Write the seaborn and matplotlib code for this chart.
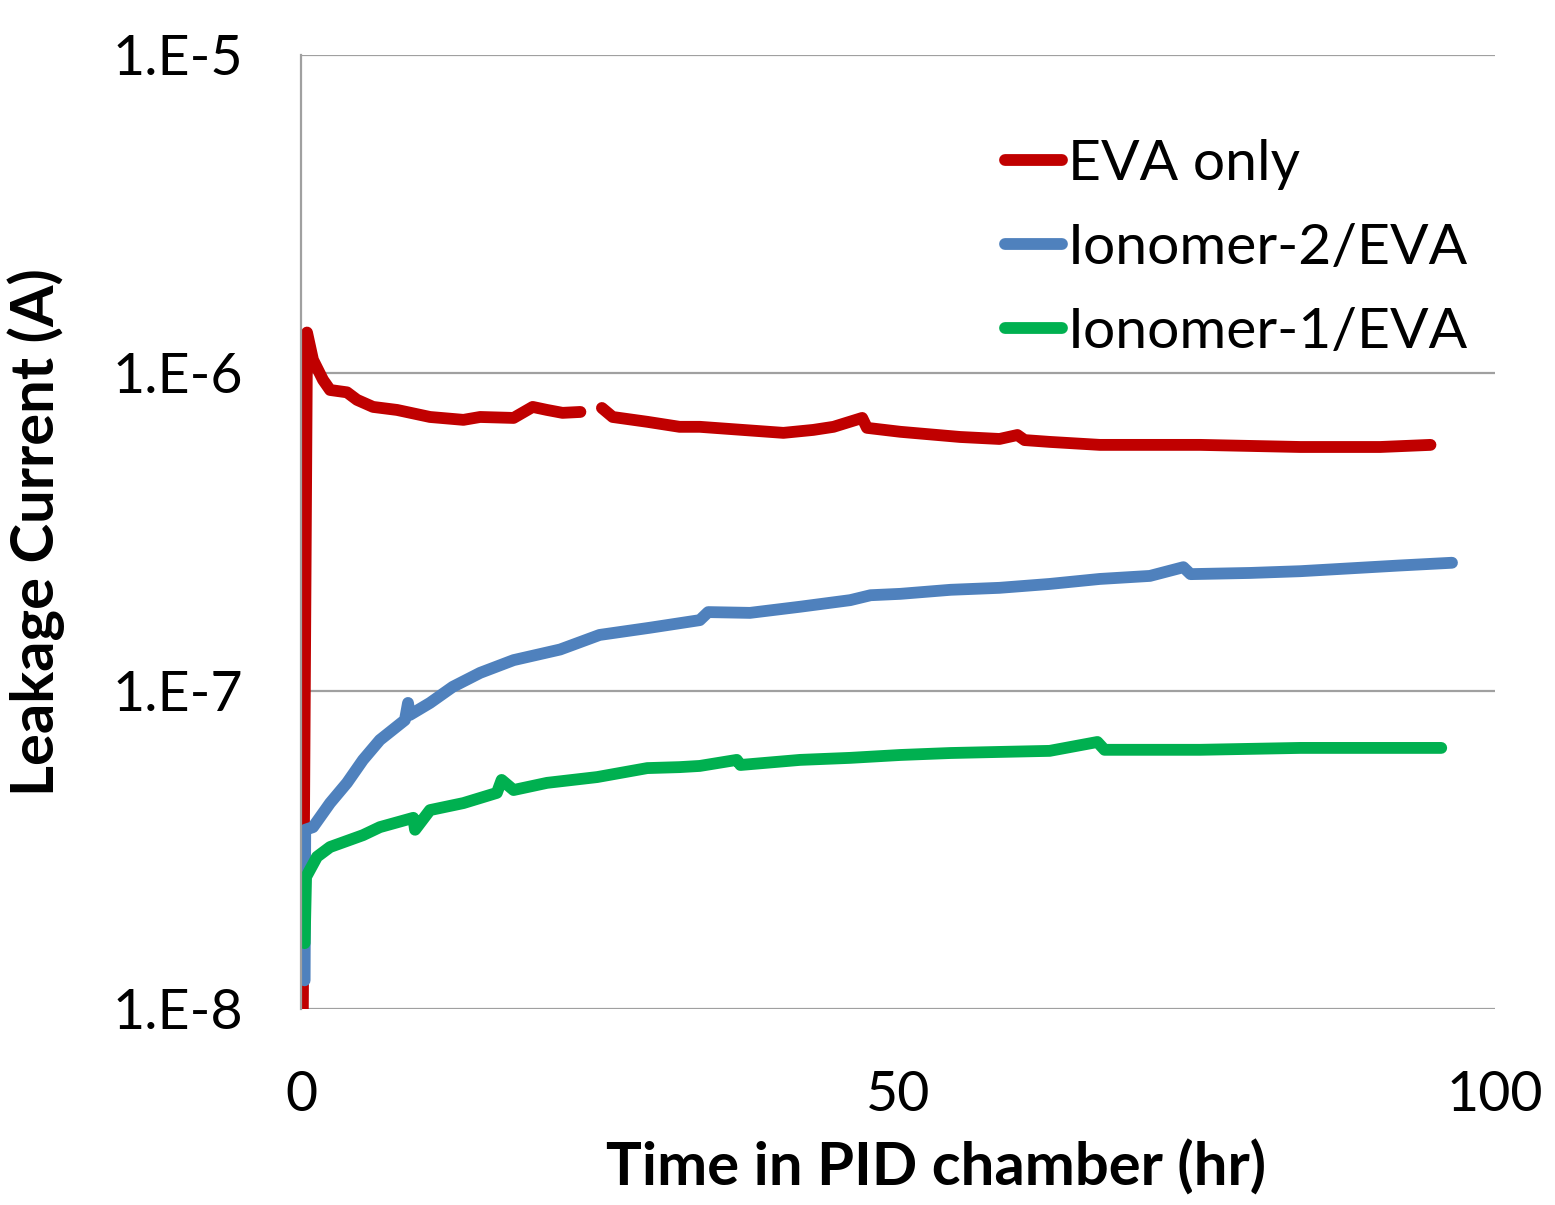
import numpy as np
import pandas as pd
import seaborn as sns
from matplotlib import pyplot as plt
from matplotlib.lines import Line2D

# EVA only (gap in the record between ~23.4 and ~25.2 hr)
eva_t = [0.15, 0.5, 1.0, 1.84, 2.43, 3.85, 4.69, 6.03, 8.04, 10.8, 13.6, 15.0,
         17.8, 19.4, 20.6, 21.9, 23.4]
eva_i = [1.0e-8, 1.34e-6, 1.10e-6, 9.51e-7, 8.84e-7, 8.69e-7, 8.23e-7, 7.82e-7,
         7.65e-7, 7.27e-7, 7.12e-7, 7.27e-7, 7.22e-7, 7.82e-7, 7.65e-7, 7.49e-7,
         7.54e-7]
eva_t2 = [25.2, 26.1, 29.0, 31.7, 33.4, 40.4, 42.9, 44.6, 47.0, 47.4, 50.2, 55.2,
          58.5, 60.0, 60.6, 62.7, 66.9, 75.3, 83.7, 90.4, 94.6]
eva_i2 = [7.76e-7, 7.27e-7, 7.02e-7, 6.77e-7, 6.77e-7, 6.48e-7, 6.62e-7, 6.77e-7,
          7.22e-7, 6.72e-7, 6.53e-7, 6.29e-7, 6.20e-7, 6.38e-7, 6.15e-7, 6.07e-7,
          5.94e-7, 5.94e-7, 5.85e-7, 5.85e-7, 5.94e-7]

ion2_t = [0.3, 0.35, 1.0, 2.43, 3.85, 5.19, 6.6, 8.7, 8.96, 9.1, 10.8, 12.7, 15.0,
          17.8, 21.7, 25.0, 29.2, 33.4, 34.1, 37.6, 41.8, 46.0, 47.7, 50.2, 54.4,
          58.5, 62.7, 66.9, 71.1, 73.9, 74.5, 79.5, 83.7, 87.9, 92.0, 96.4]
ion2_i = [1.23e-8, 3.66e-8, 3.73e-8, 4.44e-8, 5.14e-8, 6.07e-8, 7.01e-8, 8.10e-8,
          9.17e-8, 8.40e-8, 9.17e-8, 1.03e-7, 1.14e-7, 1.25e-7, 1.35e-7, 1.50e-7,
          1.58e-7, 1.67e-7, 1.77e-7, 1.76e-7, 1.84e-7, 1.93e-7, 2.00e-7, 2.02e-7,
          2.08e-7, 2.11e-7, 2.17e-7, 2.25e-7, 2.30e-7, 2.45e-7, 2.33e-7, 2.35e-7,
          2.38e-7, 2.43e-7, 2.48e-7, 2.53e-7]

ion1_t = [0.3, 0.42, 1.34, 2.43, 5.19, 6.6, 9.4, 9.55, 10.8, 13.6, 16.4, 16.8,
          17.8, 20.6, 24.8, 29.0, 31.7, 33.4, 36.5, 36.8, 41.8, 46.0, 50.2, 54.4,
          58.5, 62.7, 66.7, 67.3, 75.3, 83.7, 95.5]
ion1_i = [1.61e-8, 2.60e-8, 3.01e-8, 3.23e-8, 3.52e-8, 3.73e-8, 3.99e-8, 3.66e-8,
          4.22e-8, 4.44e-8, 4.78e-8, 5.25e-8, 4.88e-8, 5.14e-8, 5.36e-8, 5.72e-8,
          5.76e-8, 5.81e-8, 6.07e-8, 5.85e-8, 6.07e-8, 6.16e-8, 6.29e-8, 6.38e-8,
          6.43e-8, 6.48e-8, 6.91e-8, 6.53e-8, 6.53e-8, 6.62e-8, 6.62e-8]

series = ["EVA only", "Ionomer-2/EVA", "Ionomer-1/EVA"]
colors = ["#C00000", "#4F81BD", "#00B050"]

frames = [
    pd.DataFrame({"t": eva_t, "i": eva_i, "s": series[0], "seg": "a"}),
    pd.DataFrame({"t": eva_t2, "i": eva_i2, "s": series[0], "seg": "b"}),
    pd.DataFrame({"t": ion2_t, "i": ion2_i, "s": series[1], "seg": "a"}),
    pd.DataFrame({"t": ion1_t, "i": ion1_i, "s": series[2], "seg": "a"}),
]
data = pd.concat(frames, ignore_index=True)

sns.set_style("white")
plt.rcParams['font.family'] = ['Lato', 'DejaVu Sans']
plt.rcParams['text.color'] = 'black'
plt.rcParams['axes.labelcolor'] = 'black'
plt.rcParams['xtick.color'] = 'black'
plt.rcParams['ytick.color'] = 'black'

fig = plt.figure(figsize=(15.55, 12.05), dpi=100)
ax = fig.add_axes([0.1936, 0.1627, 0.7678, 0.7917])

lw = 8.5
for name, col in zip(series, colors):
    sub = data[data.s == name]
    sns.lineplot(data=sub, x="t", y="i", units="seg", estimator=None,
                 color=col, linewidth=lw, solid_capstyle="round",
                 solid_joinstyle="round", ax=ax, legend=False)

ax.set_yscale("log")
ax.set_ylim(1e-8, 1e-5)
ax.set_xlim(0, 100)
ax.set_yticks([1e-8, 1e-7, 1e-6, 1e-5])
ax.set_yticklabels(["1.E-8", "1.E-7", "1.E-6", "1.E-5"])
ax.set_xticks([0, 50, 100])
ax.set_xticklabels(["0", "50", "100"])
ax.minorticks_off()
ax.tick_params(axis="both", length=0, labelsize=40)
ax.tick_params(axis="y", pad=42)
ax.tick_params(axis="x", pad=44)

ax.grid(axis="y", color="#A0A0A0", linewidth=1.6)
ax.set_axisbelow(True)
for side in ["top", "right", "bottom"]:
    ax.spines[side].set_visible(False)
ax.spines["left"].set_color("#A0A0A0")
ax.spines["left"].set_linewidth(1.6)

ax.set_xlabel("Time in PID chamber (hr)", fontsize=43, fontweight="bold")
ax.xaxis.set_label_coords(0.532, -0.137)
ax.set_ylabel("Leakage Current (A)", fontsize=43, fontweight="bold",
              labelpad=34)

handles = [Line2D([0], [0], color=c, linewidth=lw, solid_capstyle="round")
           for c in colors]
ax.legend(handles, series, loc="upper left", bbox_to_anchor=(0.59, 0.912),
          frameon=False, fontsize=41, handlelength=1.0, handletextpad=0.1,
          labelspacing=0.58, borderpad=0, borderaxespad=0)

fig.savefig("out.png", dpi=100)
